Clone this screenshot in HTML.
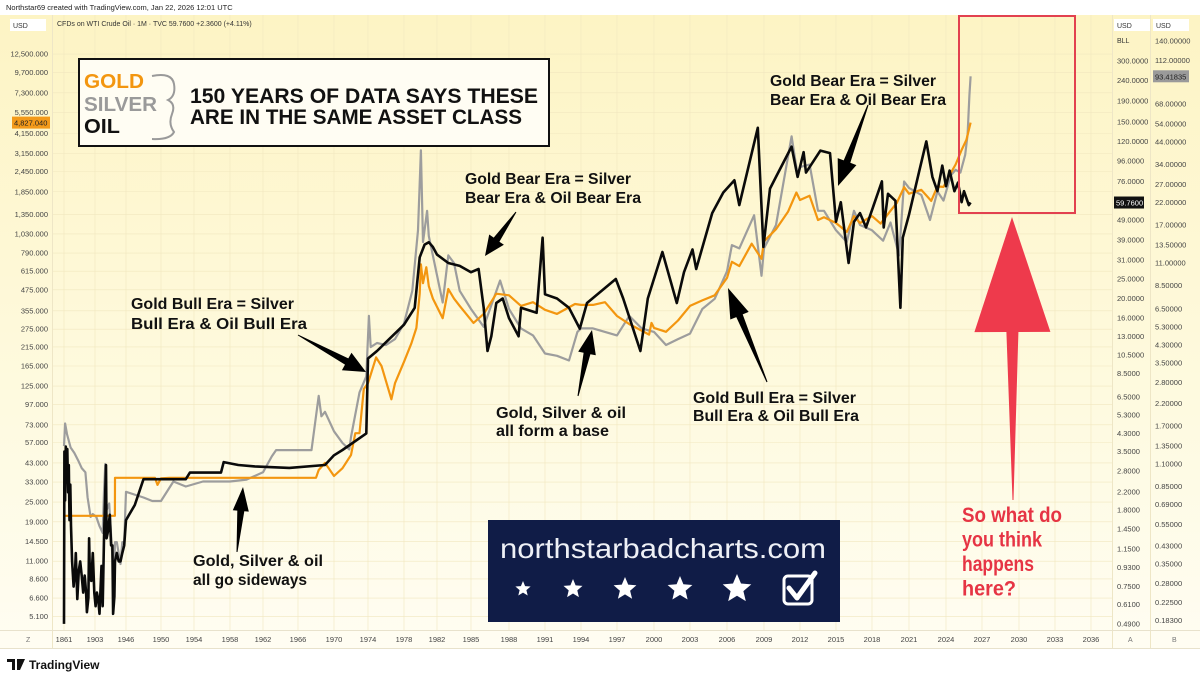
<!DOCTYPE html>
<html><head><meta charset="utf-8"><style>
html,body{margin:0;padding:0;background:#fff;}
svg{display:block;font-family:"Liberation Sans","DejaVu Sans",sans-serif;}
</style></head><body>
<svg id="chart" width="1200" height="682" viewBox="0 0 1200 682" xmlns="http://www.w3.org/2000/svg">
<defs>
<linearGradient id="bg" x1="0" y1="0" x2="0" y2="1">
<stop offset="0" stop-color="#fdf4c4"/><stop offset="0.6" stop-color="#fefadf"/><stop offset="1" stop-color="#fffdf2"/>
</linearGradient>
</defs>
<rect x="0" y="0" width="1200" height="682" fill="#ffffff"/>
<rect x="0" y="15" width="1200" height="633" fill="url(#bg)"/>
<g id="grid"></g>
<g id="axes"></g>
<g id="series"></g>
<g id="overlay"></g>
</svg>
<script>
// ---------- DATA ----------
const goldDates = [1861,1933.9,1934,1946,1948,1949.3,1949.6,1950,1951,1968,1968.3,1969,1970,1971,1972,1972.5,1973,1973.5,1974,1974.9,1975.5,1976.6,1977,1978,1978.9,1979.5,1979.9,1980.05,1980.3,1980.7,1981,1981.5,1982.5,1983,1983.5,1984,1985.2,1986,1987,1988,1989,1990,1991,1992,1993.5,1994,1995,1996,1997,1998,1999.6,1999.8,2000,2001,2002,2003,2004,2005,2006,2006.4,2007,2008,2008.8,2009,2010,2011,2011.7,2012,2012.8,2013.5,2014,2015,2015.9,2016.5,2017,2018,2018.7,2019.5,2020,2020.6,2021,2022,2022.8,2023.3,2023.8,2024.3,2024.8,2025.3,2025.7,2026.05];
const goldValues = [20.67,20.67,35,35,35,35,31.7,34.7,35,35,39,43,35.9,40,48,65,65,120,130,186,165,104,130,175,226,280,450,675,520,650,500,420,320,480,420,380,300,340,450,440,380,400,360,340,390,385,385,400,330,295,255,300,280,265,310,380,410,440,560,700,660,900,730,930,1100,1400,1830,1650,1750,1250,1300,1200,1060,1320,1200,1320,1190,1420,1580,1970,1800,1900,1630,1990,1980,2330,2700,3300,3800,4827.04];

const silverDates = [1861,1862.5,1865,1870,1875,1880,1885,1890,1893,1897,1900,1905,1910,1915,1917,1919,1921,1925,1930,1932,1934,1936,1940,1942,1944,1946,1948,1949,1950,1951.5,1953,1955,1958,1960,1962,1963,1963.5,1967.5,1968.3,1968.6,1969,1970,1971,1971.8,1972,1973,1973.8,1974.1,1974.3,1975,1976,1977,1978,1979,1979.7,1980.05,1980.3,1980.8,1981,1982.5,1983,1983.5,1984,1985,1986,1987.3,1988,1989,1990,1991,1992,1993,1993.7,1994,1995,1996,1997,1998,1999,2000,2001,2002,2003,2004,2005,2006,2006.4,2007,2008.2,2008.8,2009,2010,2011.3,2011.8,2012,2012.8,2013.5,2014,2015,2015.9,2016.5,2017,2018,2018.9,2019.5,2020.2,2020.6,2021,2022,2022.7,2023.3,2023.8,2024.4,2024.8,2025.2,2025.6,2025.8,2025.95,2026.05];
const silverValues = [1.35,1.75,1.55,1.33,1.25,1.15,1.05,1.0,0.75,0.6,0.62,0.6,0.54,0.5,0.8,1.1,0.65,0.7,0.38,0.28,0.45,0.45,0.35,0.45,0.45,0.8,0.75,0.72,0.72,0.9,0.85,0.9,0.9,0.92,1.0,1.2,1.29,1.29,2.4,1.9,2.0,1.6,1.4,1.3,1.5,2.5,3.0,6.0,4.2,4.4,4.3,4.6,5.5,8,16,40,14,20,15,7,12,11,8,6.5,5.3,9,6.5,5.2,4.8,3.9,3.8,3.6,5,5.2,5.2,5.0,4.8,6.0,5.2,5.0,4.3,4.6,4.9,6.5,7.3,10,13.5,13,19,9.5,13,17,47,30,33,34,20,20,16,14,20,17,16,14.2,17.5,12,28,26,24,18,25,22.5,30,32,31,38,48,75,93.41835];

const oilDates = [1861,1861.5,1862.5,1863.5,1864.5,1865.5,1866.5,1867.5,1868.5,1869.5,1870.5,1872,1874,1876,1877,1879,1881,1883,1885,1887,1889,1891,1892,1894,1895,1896,1898,1900,1902,1904,1906,1908,1910,1913,1915,1917,1920,1921,1923,1926,1928,1930,1931,1933,1934,1936,1938,1940,1942,1944,1946,1947,1948,1950,1953,1953.5,1957,1957.3,1959,1961,1965,1969,1970,1971,1973.8,1974,1975,1978,1979.3,1979.9,1980.5,1981,1981.5,1982,1983,1984,1985,1985.6,1986,1986.3,1986.6,1987,1987.5,1988,1988.8,1989,1990.3,1990.8,1991,1992,1993,1993.9,1994.5,1996.9,1997.5,1998.9,1999.5,2000.7,2001.9,2002.5,2003.2,2003.5,2004.8,2005.7,2006.6,2007,2008.5,2008.95,2009.5,2010,2011.3,2011.8,2012.3,2012.5,2013.7,2014.5,2015,2015.4,2016.05,2016.5,2017,2017.5,2018.8,2018.95,2019.3,2019.9,2020.3,2020.5,2021,2021.8,2022.4,2022.9,2023.3,2023.7,2024,2024.3,2024.7,2025,2025.3,2025.5,2025.9,2026.05];
const oilValues = [0.49,3.5,2.0,3.7,2.5,3.6,2.2,3.0,1.6,2.4,1.5,1.0,0.75,0.9,1.1,0.65,0.9,1.0,0.85,0.7,0.85,0.7,0.56,0.66,1.3,0.9,0.8,1.1,0.7,0.6,0.7,0.65,0.55,0.95,0.6,1.3,3.0,1.3,1.4,1.7,1.2,1.2,0.55,0.67,1.0,1.1,1.0,1.0,1.1,1.2,1.6,1.9,2.55,2.55,2.55,2.75,2.75,3.1,3.0,2.95,2.9,3.0,3.35,3.56,4.3,10.1,11,14.85,18,32,37,38,36,33,30,29,27,28,18,11,13,19,20,16,13,18,17,40,21,20,18,14.2,19,25,20,11,20,34,19,27,35,28,53,67,77,58,140,36,70,80,113,80,106,84,108,105,48,60,30,48,53,45,76,45,66,61,18,40,52,84,120,80,68,91,72,86,68,75,60,68,58,59.76];

const yearTicks = [1861,1903,1946,1950,1954,1958,1962,1966,1970,1974,1978,1982,1985,1988,1991,1994,1997,2000,2003,2006,2009,2012,2015,2018,2021,2024,2027,2030,2033,2036];
const leftTicks = [12500,9700,7300,5550,4150,3150,2450,1850,1350,1030,790,615,475,355,275,215,165,125,97,73,57,43,33,25,19,14.5,11,8.6,6.6,5.1];
const oilTicks = [300,240,190,150,120,96,76,49,39,31,25,20,16,13,10.5,8.5,6.5,5.3,4.3,3.5,2.8,2.2,1.8,1.45,1.15,0.93,0.75,0.61,0.49];
const silverTicks = [140,112,68,54,44,34,27,22,17,13.5,11,8.5,6.5,5.3,4.3,3.5,2.8,2.2,1.7,1.35,1.1,0.85,0.69,0.55,0.43,0.35,0.28,0.225,0.183];

// ---------- SCALES ----------
const X_ANCHOR_YEARS = [1861,1903,1934,1946,1950,1954,1958,1962,1966,1970,1974,1978,1982,1985,1988,1991,1994,1997,2000,2003,2006,2009,2012,2015,2018,2021,2024,2027,2030,2033,2036];
const X_ANCHOR_PX    = [64,95,115,126,161,194,230,263,298,334,368,404,437,471,509,545,581,617,654,690,727,764,800,836,872,909,946,982,1019,1055,1091];
function xOf(yr){
  for(let i=0;i<X_ANCHOR_YEARS.length-1;i++){
    if(yr<=X_ANCHOR_YEARS[i+1]){const a=X_ANCHOR_YEARS[i],b=X_ANCHOR_YEARS[i+1];return X_ANCHOR_PX[i]+(yr-a)/(b-a)*(X_ANCHOR_PX[i+1]-X_ANCHOR_PX[i]);}
  }
  return X_ANCHOR_PX[X_ANCHOR_PX.length-1];
}
const yLeft  = v => 54 + (4.097 - Math.log10(v))*166;
const yOil   = v => 61 + (2.477 - Math.log10(v))*202;
const ySilver= v => 41 + (2.146 - Math.log10(v))*201;

const NS="http://www.w3.org/2000/svg";
function mk(tag,attrs,parent,text){const e=document.createElementNS(NS,tag);for(const k in attrs)e.setAttribute(k,attrs[k]);if(text!==undefined)e.textContent=text;parent.appendChild(e);return e;}
const grid=document.getElementById('grid'),axes=document.getElementById('axes'),series=document.getElementById('series'),ov=document.getElementById('overlay');
function fmt(v,d){return v.toLocaleString('en-US',{minimumFractionDigits:d,maximumFractionDigits:d});}

yearTicks.forEach(y=>{const gl=mk('line',{x1:xOf(y),x2:xOf(y),y1:15,y2:630,stroke:'#f1e7bf','stroke-width':0.6},grid);

});
leftTicks.forEach(v=>{const gl=mk('line',{x1:52,x2:1112,y1:yLeft(v),y2:yLeft(v),stroke:'#f1e7bf','stroke-width':0.6},grid);

});

mk('rect',{x:1112,y:15,width:1,height:633,fill:'#eee6c6'},axes);
mk('rect',{x:1150,y:15,width:1,height:633,fill:'#eee6c6'},axes);
mk('rect',{x:52,y:15,width:1,height:633,fill:'#eee6c6'},axes);
mk('rect',{x:0,y:630,width:1200,height:1,fill:'#e8e2cc'},axes);
mk('rect',{x:0,y:648,width:1200,height:1,fill:'#e8e2cc'},axes);

leftTicks.forEach(v=>{const t=mk('text',{x:48,y:yLeft(v)+2.5,'font-size':7.5,fill:'#444','text-anchor':'end'},axes,fmt(v,3));

});
oilTicks.forEach(v=>{if(Math.abs(v-59.76)<1)return;const t=mk('text',{x:1117,y:yOil(v)+2.5,'font-size':7.5,fill:'#444'},axes,fmt(v,4).replace(/,/g,''));

});
silverTicks.forEach(v=>{const t=mk('text',{x:1155,y:ySilver(v)+2.5,'font-size':7.5,fill:'#444'},axes,fmt(v,5).replace(/,/g,''));

});
yearTicks.forEach(y=>{const t=mk('text',{x:xOf(y),y:642,'font-size':7.5,fill:'#444','text-anchor':'middle'},axes,String(y));

});

function drawSeries(dates,vals,yf,color,w,name){
  let d='';dates.forEach((t,i)=>{d+=(i?'L':'M')+xOf(t).toFixed(1)+','+yf(vals[i]).toFixed(1);});
  const p=mk('path',{d:d,fill:'none',stroke:color,'stroke-width':w,'stroke-linejoin':'round'},series);
  
  
}
drawSeries(silverDates,silverValues,ySilver,'#9d9d9d',2.2,'silver-line');
drawSeries(goldDates,goldValues,yLeft,'#f3960f',2.2,'gold-line');
drawSeries(oilDates,oilValues,yOil,'#0a0a0a',2.6,'oil-line');

function tag(x,y,w,bg,fg,txt,name){const g=mk('g',{},axes);mk('rect',{x:x,y:y-6,width:w,height:12,fill:bg},g);mk('text',{x:x+2,y:y+3,'font-size':7.5,fill:fg},g,txt);

}
tag(12,yLeft(goldValues[goldValues.length-1]),38,'#f39a1a','#222',fmt(goldValues[goldValues.length-1],3),'gold-price-tag');
tag(1114,yOil(oilValues[oilValues.length-1]),30,'#111','#fff',oilValues[oilValues.length-1].toFixed(4),'oil-price-tag');
tag(1153,ySilver(silverValues[silverValues.length-1]),36,'#9a9a9a','#222',silverValues[silverValues.length-1].toFixed(5),'silver-price-tag');

function arrow(x1,y1,x2,y2,hl,hw,tw,color,name){
  const dx=x2-x1,dy=y2-y1,L=Math.hypot(dx,dy),ux=dx/L,uy=dy/L,px=-uy,py=ux;
  const bx=x2-ux*hl,by=y2-uy*hl;
  const pts=[[x1+px*0.5,y1+py*0.5],[bx+px*tw,by+py*tw],[bx+px*hw,by+py*hw],[x2,y2],[bx-px*hw,by-py*hw],[bx-px*tw,by-py*tw],[x1-px*0.5,y1-py*0.5]];
  const p=mk('polygon',{points:pts.map(p=>p.map(v=>v.toFixed(1)).join(',')).join(' '),fill:color},ov);
  
  
}
arrow(298,335,366,372,22,10,3.5,'#000','arrow-bull-era-1');
arrow(237,552,243,487,24,8,3.5,'#000','arrow-sideways');
arrow(516,212,485,256,20,9,3.5,'#000','arrow-bear-era-1');
arrow(578,396,592,330,24,9,3.5,'#000','arrow-base');
arrow(767,382,728,288,30,10,3.5,'#000','arrow-bull-era-2');
arrow(868,105,838,186,26,10,3.5,'#000','arrow-bear-era-2');
arrow(1013,500,1012,217,115,38,6,'#ee3a4c','red-arrow');

function txt(x,y,s,size,color,weight,len,name){const t=mk('text',{x:x,y:y,'font-size':size,fill:color,'font-weight':weight||'normal'},ov,s);
if(len){t.setAttribute('textLength',len);t.setAttribute('lengthAdjust','spacingAndGlyphs');}

return t;}

const AW='bold';
txt(131,309,'Gold Bull Era = Silver',16,'#111',AW,163,'annotation-bull-era-1');
txt(131,329,'Bull Era & Oil Bull Era',16,'#111',AW,176,'annotation-bull-era-1');
txt(193,566,'Gold, Silver & oil',16,'#111',AW,130,'annotation-sideways');
txt(193,585,'all go sideways',16,'#111',AW,114,'annotation-sideways');
txt(465,184,'Gold Bear Era = Silver',16,'#111',AW,166,'annotation-bear-era-1');
txt(465,203,'Bear Era & Oil Bear Era',16,'#111',AW,176,'annotation-bear-era-1');
txt(496,418,'Gold, Silver & oil',16,'#111',AW,130,'annotation-base');
txt(496,436,'all form a base',16,'#111',AW,113,'annotation-base');
txt(693,403,'Gold Bull Era = Silver',16,'#111',AW,163,'annotation-bull-era-2');
txt(693,421,'Bull Era & Oil Bull Era',16,'#111',AW,166,'annotation-bull-era-2');
txt(770,86,'Gold Bear Era = Silver',16,'#111',AW,166,'annotation-bear-era-2');
txt(770,105,'Bear Era & Oil Bear Era',16,'#111',AW,176,'annotation-bear-era-2');

(function(){const r=mk('rect',{x:959,y:16,width:116,height:197,fill:'none',stroke:'#e2414f','stroke-width':2},ov);

})();
['So what do','you think','happens','here?'].forEach((s,i)=>txt(962,522+i*24.5,s,21,'#e63444','bold',[100,80,72,54][i],'forecast-question'));

(function(){const g=mk('g',{},ov);


mk('rect',{x:79,y:59,width:470,height:87,fill:'#fffdf3',stroke:'#111','stroke-width':2},g);
mk('text',{x:84,y:88,'font-size':20,'font-weight':'bold',fill:'#f3960f',textLength:60,lengthAdjust:'spacingAndGlyphs'},g,'GOLD');
mk('text',{x:84,y:111,'font-size':20,'font-weight':'bold',fill:'#9a9a9a',textLength:73,lengthAdjust:'spacingAndGlyphs'},g,'SILVER');
mk('text',{x:84,y:133,'font-size':20,'font-weight':'bold',fill:'#111',textLength:36,lengthAdjust:'spacingAndGlyphs'},g,'OIL');
mk('path',{d:'M152,76 Q172,72 174,84 Q176,96 168,100 Q176,104 172,114 Q168,124 174,132 Q170,140 152,139',fill:'none',stroke:'#9a9a9a','stroke-width':2},g);
mk('text',{x:190,y:103,'font-size':21,'font-weight':'bold',fill:'#111',textLength:348,lengthAdjust:'spacingAndGlyphs'},g,'150 YEARS OF DATA SAYS THESE');
mk('text',{x:190,y:124,'font-size':21,'font-weight':'bold',fill:'#111',textLength:332,lengthAdjust:'spacingAndGlyphs'},g,'ARE IN THE SAME ASSET CLASS');
})();

(function(){const g=mk('g',{},ov);


mk('rect',{x:488,y:520,width:352,height:102,fill:'#101c47'},g);
mk('text',{x:500,y:558,'font-size':28,fill:'#eef0f6',textLength:326,lengthAdjust:'spacingAndGlyphs'},g,'northstarbadcharts.com');
const cx=[523,573,625,680,737],rs=[8,10,12,13,15];
cx.forEach((x,i)=>{let pts=[];for(let k=0;k<10;k++){const a=-Math.PI/2+k*Math.PI/5,r=k%2?rs[i]*0.45:rs[i];pts.push((x+r*Math.cos(a)).toFixed(1)+','+(589+r*Math.sin(a)).toFixed(1));}
mk('polygon',{points:pts.join(' '),fill:'#ffffff'},g);});
mk('rect',{x:784,y:576,width:28,height:28,rx:4,fill:'none',stroke:'#ffffff','stroke-width':3},g);
mk('path',{d:'M789,588 L797,598 L815,573',fill:'none',stroke:'#ffffff','stroke-width':5,'stroke-linecap':'round','stroke-linejoin':'round'},g);
})();

txt(6,10,'Northstar69 created with TradingView.com, Jan 22, 2026 12:01 UTC',7.5,'#222','normal',null,'attribution-header');
txt(57,26,'CFDs on WTI Crude Oil · 1M · TVC  59.7600  +2.3600 (+4.11%)',7,'#333','normal',null,'symbol-legend');
[[10,'USD','left-currency-label'],[1114,'USD','oil-currency-label'],[1153,'USD','silver-currency-label']].forEach(a=>{
 const g=mk('g',{},ov);mk('rect',{x:a[0],y:19,width:36,height:12,fill:'#fff'},g);mk('text',{x:a[0]+3,y:28,'font-size':7,fill:'#333'},g,a[1]);
 
 });
txt(1117,43,'BLL',7,'#333','normal',null,'oil-unit-label');
txt(26,642,'Z',7,'#777','normal',null,'axis-corner-z');
txt(1128,642,'A',7,'#777','normal',null,'axis-label-a');
txt(1172,642,'B',7,'#777','normal',null,'axis-label-b');
(function(){const g=mk('g',{},ov);


mk('path',{d:'M7,659 h8 v11 h-3 v-8 h-5 z M17,659 h8 l-5,11 h-3 z',fill:'#111'},g);
mk('circle',{cx:18.5,cy:661,r:1.6,fill:'#111'},g);
mk('text',{x:29,y:669,'font-size':12,'font-weight':'bold',fill:'#111'},g,'TradingView');})();
</script>
</body></html>
